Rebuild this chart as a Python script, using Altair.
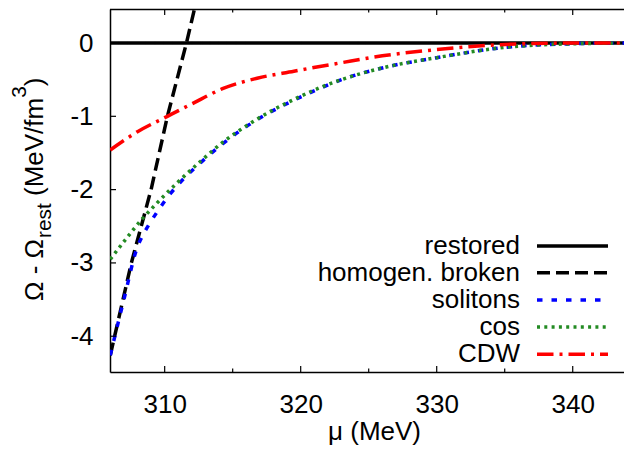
import altair as alt
import pandas as pd

# ---------------- data ----------------
mu_restored = [306.0, 344.4]
om_restored = [0.0, 0.0]

mu_homog = [306.0, 307.55, 309.0, 310.2, 311.6, 312.3]
om_homog = [-4.26, -3.0, -2.0, -1.0, 0.0, 0.55]

mu_sol = [306.0, 307.0, 308.0, 308.4, 308.9, 309.5, 310.4, 311.1, 312.6, 314.3,
          316.0, 317.7, 319.5, 321.4, 323.0, 326.0, 330.0, 335.0, 340.0, 344.4]
om_sol = [-4.26, -3.5, -2.78, -2.62, -2.46, -2.29, -2.06, -1.91, -1.64, -1.37,
          -1.14, -0.95, -0.78, -0.62, -0.50, -0.34, -0.20, -0.06, -0.01, 0.0]

mu_cos = [306.0, 307.0, 308.3, 309.4, 310.9, 312.6, 314.3, 316.0, 317.7, 319.5,
          321.4, 323.0, 326.0, 330.0, 335.0, 340.0, 344.4]
om_cos = [-2.95, -2.71, -2.41, -2.19, -1.91, -1.62, -1.35, -1.13, -0.94, -0.77,
          -0.61, -0.50, -0.34, -0.20, -0.06, -0.01, 0.0]

mu_cdw = [306.0, 308.0, 310.2, 312.0, 314.3, 316.8, 319.5, 321.4, 322.8, 326.0,
          330.0, 335.0, 340.0, 344.4]
om_cdw = [-1.46, -1.21, -1.0, -0.83, -0.62, -0.48, -0.385, -0.32, -0.275, -0.175,
          -0.09, -0.02, 0.0, 0.0]

series_names = ["restored", "homogen. broken", "solitons", "cos", "CDW"]
series_colors = ["#000000", "#000000", "#0000ff", "#238b23", "#ff0000"]
series_dash = [[1, 0], [13, 6], [5.5, 9], [3, 4.3], [16.5, 6, 3, 6]]

x_major = [310, 320, 330, 340]
x_minor = [315, 325, 335]
y_major = [0, -1, -2, -3, -4]

# ---------------- layout ----------------
FONT = "Liberation Sans"
W, H = 514, 363
X_DOMAIN = [305.98, 343.77]
Y_DOMAIN = [-4.488, 0.464]

xscale = alt.Scale(domain=X_DOMAIN, nice=False, zero=False)
yscale = alt.Scale(domain=Y_DOMAIN, nice=False, zero=False)

xaxis = alt.Axis(values=x_major, ticks=False, grid=False, domain=True,
                 domainColor="black", domainWidth=1.5,
                 labelFont=FONT, labelFontSize=26, labelColor="black",
                 labelPadding=19, labelFlush=False,
                 title="μ (MeV)", titleFont=FONT, titleFontSize=26,
                 titleFontWeight="normal", titleColor="black",
                 titleBaseline="alphabetic", titleY=67, titleX=264)
yaxis = alt.Axis(values=y_major, ticks=False, grid=False, domain=True,
                 domainColor="black", domainWidth=1.5,
                 labelFont=FONT, labelFontSize=26, labelColor="black",
                 labelPadding=17, labelExpr="'' + datum.value",
                 labelBaseline="middle", title=None)


def X():
    return alt.X("mu:Q", scale=xscale, axis=xaxis)


def Y():
    return alt.Y("om:Q", scale=yscale, axis=yaxis)


layers = []
all_mu = [mu_restored, mu_homog, mu_sol, mu_cos, mu_cdw]
all_om = [om_restored, om_homog, om_sol, om_cos, om_cdw]
for name, mus, oms, col, dash in zip(series_names, all_mu, all_om,
                                     series_colors, series_dash):
    df = pd.DataFrame({"mu": mus, "om": oms})
    interp = "linear" if name in ("restored", "homogen. broken") else "monotone"
    layers.append(
        alt.Chart(df).mark_line(clip=True, color=col, strokeWidth=3.5,
                                strokeDash=dash, interpolate=interp)
        .encode(x=X(), y=Y())
    )

# inward ticks (bottom/top, major/minor) and left ticks
tick_style = dict(color="black", strokeWidth=1.2)
df_xmaj = pd.DataFrame({"mu": x_major})
df_xmin = pd.DataFrame({"mu": x_minor})
df_ymaj = pd.DataFrame({"om": y_major})
layers.append(alt.Chart(df_xmaj).mark_rule(**tick_style).encode(
    x=X(), y=alt.value(H), y2=alt.value(H - 6)))
layers.append(alt.Chart(df_xmin).mark_rule(**tick_style).encode(
    x=X(), y=alt.value(H), y2=alt.value(H - 3.5)))
layers.append(alt.Chart(df_xmaj).mark_rule(**tick_style).encode(
    x=X(), y=alt.value(0), y2=alt.value(6)))
layers.append(alt.Chart(df_xmin).mark_rule(**tick_style).encode(
    x=X(), y=alt.value(0), y2=alt.value(3.5)))
layers.append(alt.Chart(df_ymaj).mark_rule(**tick_style).encode(
    y=Y(), x=alt.value(0), x2=alt.value(6)))

# top frame line
layers.append(alt.Chart(pd.DataFrame({"a": [0]})).mark_rule(
    color="black", strokeWidth=1.5).encode(
    x=alt.value(0), x2=alt.value(W + 10), y=alt.value(0.5)))

# legend (label left, line sample right)
legend_y = [237, 263.7, 291, 318, 345.3]
for name, col, dash, ly in zip(series_names, series_colors, series_dash, legend_y):
    d = pd.DataFrame({"label": [name]})
    layers.append(alt.Chart(d).mark_text(
        align="right", baseline="middle", font=FONT, fontSize=26,
        color="black").encode(text="label:N", x=alt.value(410), y=alt.value(ly)))
    layers.append(alt.Chart(d).mark_rule(
        color=col, strokeWidth=3.5, strokeDash=dash).encode(
        x=alt.value(427), x2=alt.value(498), y=alt.value(ly)))

# y axis title with subscript and superscript (rotated text pieces)
title_parts = [
    ("Ω - Ω", 26, -67, 292),
    ("rest", 20.8, -59, 229),
    ("(MeV/fm", 26, -67, 187),
    ("3", 20.8, -84, 88.8),
    (")", 26, -67, 77.2),
]
for txt, fs, tx, ty in title_parts:
    d = pd.DataFrame({"t": [txt]})
    layers.append(alt.Chart(d).mark_text(
        align="left", baseline="alphabetic", angle=270, font=FONT,
        fontSize=fs, color="black").encode(
        text="t:N", x=alt.value(tx), y=alt.value(ty)))

chart = alt.layer(*layers).properties(
    width=W, height=H,
    autosize=alt.AutoSizeParams(type="none"),
    padding={"left": 102, "top": 1, "right": 0, "bottom": 75},
).configure_view(stroke=None).configure(background="white")

chart.save("out.html", embed_options={"renderer": "svg", "actions": False})
